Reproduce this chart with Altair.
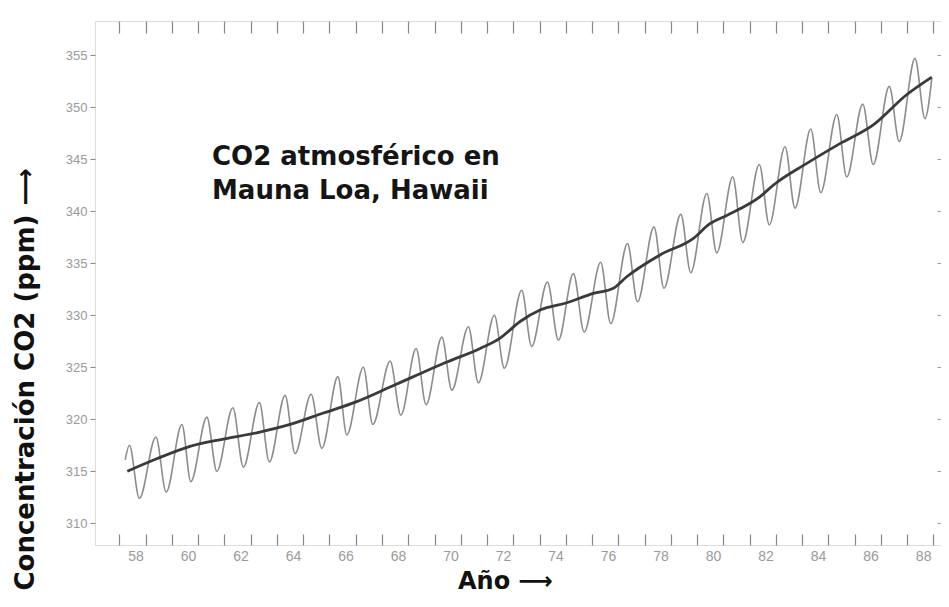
import altair as alt
import pandas as pd

# Seasonal (monthly) CO2 curve: start, then alternating peaks / troughs, then end
season_year = [58.22, 58.38, 58.76, 59.39, 59.78, 60.38, 60.72, 61.33, 61.71, 62.32, 62.72,
               63.33, 63.71, 64.31, 64.69, 65.30, 65.71, 66.32, 66.66, 67.29, 67.65,
               68.31, 68.72, 69.30, 69.68, 70.28, 70.66, 71.29, 71.67, 72.28, 72.66,
               73.32, 73.70, 74.30, 74.72, 75.29, 75.70, 76.33, 76.71, 77.35, 77.73,
               78.36, 78.74, 79.38, 79.76, 80.37, 80.75, 81.36, 81.74, 82.37, 82.75,
               83.35, 83.73, 84.33, 84.71, 85.32, 85.70, 86.31, 86.71, 87.32, 87.70,
               88.30, 88.68, 88.94]
season_ppm = [316.1, 317.5, 312.4, 318.3, 313.0, 319.5, 314.0, 320.2, 315.0, 321.1, 315.4,
              321.6, 315.9, 322.3, 316.7, 322.4, 317.2, 324.1, 318.5, 325.0, 319.5,
              325.6, 320.4, 326.8, 321.4, 327.9, 322.8, 328.9, 323.5, 330.0, 324.9,
              332.4, 327.0, 333.2, 327.6, 334.0, 328.4, 335.1, 329.2, 336.9, 331.3,
              338.5, 332.6, 339.7, 334.1, 341.7, 336.0, 343.3, 337.0, 344.5, 338.7,
              346.2, 340.3, 347.9, 341.8, 349.3, 343.3, 350.3, 344.5, 352.0, 346.7,
              354.7, 348.9, 352.8]

# Smoothed (de-seasonalised) trend
trend_year = [58.30, 59.42, 60.69, 61.96, 63.23, 64.50, 65.77, 67.04, 68.31, 69.20,
              70.47, 71.74, 72.50, 73.26, 74.02, 75.04, 76.05, 76.81, 77.32, 78.59,
              79.86, 80.49, 81.13, 82.40, 82.90, 84.18, 85.44, 86.71, 87.98, 88.94]
trend_ppm = [315.0, 316.2, 317.4, 318.1, 318.7, 319.5, 320.6, 321.7, 323.1, 324.1,
             325.5, 326.8, 327.8, 329.4, 330.5, 331.2, 332.1, 332.6, 333.7, 335.8,
             337.4, 338.8, 339.6, 341.4, 342.5, 344.6, 346.5, 348.3, 351.2, 352.9]

x_ticks = list(range(58, 90))
y_ticks = [310, 315, 320, 325, 330, 335, 340, 345, 350, 355]
x_domain = [57.07, 89.29]
y_domain = [307.91, 358.29]

inner_title = "CO2 atmosférico en\nMauna Loa, Hawaii"
x_title = "Año ⟶"
y_title = "Concentración CO2 (ppm) ⟶"

season = pd.DataFrame({"year": season_year, "ppm": season_ppm})
trend = pd.DataFrame({"year": trend_year, "ppm": trend_ppm})
label_df = pd.DataFrame({"t": [inner_title]})

xs = alt.Scale(domain=x_domain, nice=False, zero=False)
ys = alt.Scale(domain=y_domain, nice=False, zero=False)

BOLD = "DejaVu Sans"

seasonal = alt.Chart(season).mark_line(
    color="#8c8c8c", strokeWidth=1.6, interpolate="monotone"
).encode(
    x=alt.X("year:Q", scale=xs, axis=alt.Axis(
        orient="bottom", values=x_ticks, format="d",
        labelExpr="datum.value % 2 == 0 ? datum.label : ''",
        offset=-11, tickSize=11, domain=False, grid=False,
        labelPadding=4, labelOffset=16, labelFontSize=14, labelColor="#9a9a9a",
        labelFont="Liberation Sans", tickColor="#888888", tickWidth=1.2,
        title=x_title, titleFont=BOLD, titleFontSize=24, titleFontWeight="bold",
        titleColor="#111111", titleX=410, titleY=54, titleAlign="center",
        titleBaseline="alphabetic", titleAngle=0,
    )),
    y=alt.Y("ppm:Q", scale=ys, axis=alt.Axis(
        orient="left", values=y_ticks, tickSize=5, domain=False, grid=False,
        labelPadding=3, labelFontSize=13, labelColor="#9a9a9a",
        labelFont="Liberation Sans", tickColor="#888888",
        title=y_title, titleFont=BOLD, titleFontSize=26, titleFontWeight="bold",
        titleColor="#111111", titleX=-70, titleY=569, titleAngle=270,
        titleAlign="left", titleBaseline="middle",
    )),
)

trend_line = alt.Chart(trend).mark_line(
    color="#3a3a3a", strokeWidth=2.8, interpolate="monotone"
).encode(
    x=alt.X("year:Q", scale=xs, axis=alt.Axis(
        orient="top", values=x_ticks, labels=False, offset=-12, tickSize=12,
        domain=False, grid=False, tickColor="#888888", tickWidth=1.2, title=None,
    )),
    y=alt.Y("ppm:Q", scale=ys, axis=alt.Axis(
        orient="right", values=y_ticks, labels=False, offset=-4, tickSize=4,
        domain=False, grid=False, tickColor="#999999", title=None,
    )),
)

label = alt.Chart(label_df).mark_text(
    align="left", baseline="alphabetic", font=BOLD, fontSize=26, fontWeight="bold",
    color="#151515", lineBreak="\n", lineHeight=34,
).encode(text="t:N", x=alt.value(117), y=alt.value(144))

chart = alt.layer(seasonal, trend_line, label).resolve_axis(
    x="independent", y="independent"
).properties(
    width=846, height=524,
    autosize=alt.AutoSizeParams(type="none"),
    padding={"left": 87, "top": 13, "right": 0, "bottom": 49},
).configure_view(
    stroke="#7a7a7a", strokeWidth=1.5
).configure(background="white")

chart.save("out.html", embed_options={"renderer": "svg", "actions": False})
